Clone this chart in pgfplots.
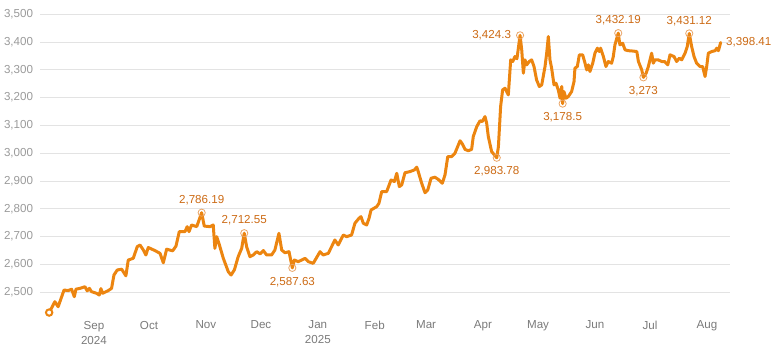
\documentclass[border=0pt]{standalone}
\usepackage{pgfplots}
\pgfplotsset{compat=1.18}
\usepackage{pgfplotstable}
\usepackage{fontspec}
\setmainfont{Liberation Sans}
\definecolor{goldline}{HTML}{EC8510}
\definecolor{annot}{HTML}{CC6A14}
\definecolor{ring}{HTML}{E9A466}
\definecolor{gridc}{HTML}{E3E3E3}
\definecolor{ytickc}{HTML}{9A9A9A}
\definecolor{xtickc}{HTML}{7A7A7A}

\pgfplotstableread{
d v
-24.4 2427
-21.3 2466
-19.5 2448
-16.3 2508
-14.0 2506
-12.2 2511
-10.7 2484
-9.8 2511
-7.6 2514
-4.9 2520
-3.7 2505
-2.5 2514
-1.3 2502
1.5 2496
2.9 2490
3.8 2513
4.7 2496
7.8 2506
9.6 2514
10.9 2562
12.7 2580
15.1 2583
17.4 2559
18.7 2616
21.4 2622
23.6 2664
25.1 2670
26.9 2652
28.3 2634
29.6 2661
33.2 2650
36.0 2640
37.8 2606
39.6 2655
42.9 2649
44.7 2666
46.5 2718
49.6 2718
50.8 2736
51.8 2718
53.2 2742
56.0 2736
58.7 2786.19
60.1 2738
63.2 2736
65.0 2742
65.9 2658
66.9 2700
68.1 2676
70.5 2622
73.2 2574
74.7 2562
76.5 2580
78.6 2628
80.5 2658
81.9 2712.55
83.2 2664
85.0 2628
86.8 2634
88.7 2646
90.5 2638
92.3 2650
94.1 2634
96.8 2634
98.6 2652
100.8 2712
102.3 2652
104.1 2642
106.3 2646
108.1 2587.63
109.2 2616
111.3 2610
113.2 2616
115.0 2622
116.8 2610
119.5 2604
123.2 2646
124.9 2634
127.7 2640
131.3 2688
133.1 2670
135.9 2706
137.7 2700
140.4 2706
142.2 2748
144.4 2766
145.5 2772
146.8 2748
148.6 2742
149.9 2766
151.0 2796
154.1 2808
155.3 2820
156.8 2862
159.5 2862
161.9 2904
163.7 2898
165.0 2928
166.4 2880
167.7 2886
169.5 2930
172.2 2934
174.6 2940
175.9 2950
176.7 2934
178.6 2892
180.4 2858
181.9 2868
183.7 2910
185.8 2914
188.0 2904
189.8 2892
191.3 2922
192.8 2988
194.9 2988
196.7 3000
198.2 3024
199.5 3045
200.7 3034
202.2 3014
204.0 3009
205.8 3014
206.7 3060
208.6 3096
210.4 3117
211.6 3114
213.1 3132
214.0 3108
214.9 3060
216.7 3006
219.5 2983.78
220.4 3024
221.6 3168
222.7 3228
224.0 3234
225.8 3210
227.1 3336
228.2 3330
229.4 3348
230.5 3340
232.2 3424.3
233.1 3372
234.0 3288
234.9 3336
235.8 3318
237.2 3330
238.5 3336
239.8 3312
241.2 3264
242.7 3240
244.0 3246
245.8 3312
246.7 3360
247.6 3420
248.5 3336
249.4 3306
250.7 3246
251.8 3252
253.0 3228
254.0 3198
254.9 3240
255.4 3178.5
256.1 3222
257.2 3198
258.5 3204
260.3 3222
261.6 3258
262.1 3306
263.4 3312
264.5 3354
266.3 3354
267.6 3324
268.5 3300
269.4 3318
270.3 3294
271.8 3324
273.0 3360
274.3 3378
275.4 3366
276.1 3378
277.6 3348
279.0 3312
280.3 3330
282.1 3324
283.0 3348
283.9 3390
285.7 3432.19
286.6 3390
288.1 3396
289.4 3372
291.2 3369
293.2 3368
295.8 3366
296.7 3330
298.5 3300
299.4 3273
300.9 3288
302.1 3312
303.9 3360
304.8 3324
305.7 3336
307.5 3336
309.4 3330
311.0 3330
312.7 3318
313.9 3354
316.1 3348
317.5 3330
319.0 3342
320.3 3336
322.1 3360
323.3 3384
324.4 3431.12
325.7 3384
327.0 3348
328.4 3324
330.3 3312
331.7 3312
333.0 3276
333.9 3312
334.8 3360
336.7 3366
338.5 3369
339.4 3378
340.3 3369
341.5 3398.41
}\goldtable

\pgfplotstableread{
d v lab
58.7 2786.19 2,786.19
81.9 2712.55 2,712.55
285.7 3432.19 3,432.19
324.4 3431.12 3,431.12
}\abovetable

\pgfplotstableread{
d v lab
108.1 2587.63 2,587.63
219.5 2983.78 2,983.78
255.4 3178.5 3,178.5
299.4 3273 3,273
}\belowtable

\pgfplotstableread{
d v lab
232.2 3424.3 3,424.3
}\lefttable

\pgfplotstableread{
d v lab
341.5 3398.41 3,398.41
}\righttable

\pgfplotstableread{
d v
-24.4 2427
}\starttable

\newcommand\lblfont{\fontsize{8.7}{11.25}\selectfont}

\begin{document}
\begin{tikzpicture}
\begin{axis}[
  name=ax,
  at={(0pt,0pt)}, anchor=south west,
  scale only axis, width=517.5pt, height=227.25pt,
  xmin=-29.4, xmax=346.6, ymin=2410, ymax=3500,
  clip=false,
  axis line style={draw=none},
  tick style={draw=none},
  major tick length=0pt,
  ytick={2500,2600,...,3500},
  ymajorgrids, grid style={gridc, line width=0.75pt},
  xtick={0,30,61,91,122,153,181,212,242,273,303,334},
  xticklabels={{Sep\\2024},Oct,Nov,Dec,{Jan\\2025},Feb,Mar,Apr,May,Jun,Jul,Aug},
  xticklabel style={align=center, anchor=north, inner sep=0pt, yshift=-2.6pt, text=xtickc, font=\lblfont},
  yticklabel style={anchor=east, inner sep=0pt, xshift=-5pt, text=ytickc, font=\lblfont,
     /pgf/number format/1000 sep={,}, /pgf/number format/assume math mode=true},
]
\addplot[goldline, line width=2.25pt, line join=round, line cap=round, mark=none] table[x=d,y=v] {\goldtable};
\addplot[only marks, mark=o, mark size=2.7pt, mark options={ring, line width=0.6pt},
  point meta=explicit symbolic, nodes near coords,
  every node near coord/.style={anchor=south, inner sep=0pt, yshift=5.5pt, text=annot, font=\lblfont}]
  table[x=d,y=v,meta=lab] {\abovetable};
\addplot[only marks, mark=o, mark size=2.7pt, mark options={ring, line width=0.6pt},
  point meta=explicit symbolic, nodes near coords,
  every node near coord/.style={anchor=north, inner sep=0pt, yshift=-6.5pt, text=annot, font=\lblfont}]
  table[x=d,y=v,meta=lab] {\belowtable};
\addplot[only marks, mark=o, mark size=2.7pt, mark options={ring, line width=0.6pt},
  point meta=explicit symbolic, nodes near coords,
  every node near coord/.style={anchor=east, inner sep=0pt, xshift=-6.5pt, text=annot, font=\lblfont}]
  table[x=d,y=v,meta=lab] {\lefttable};
\addplot[only marks, mark=none,
  point meta=explicit symbolic, nodes near coords,
  every node near coord/.style={anchor=west, inner sep=0pt, xshift=4pt, text=annot, font=\lblfont}]
  table[x=d,y=v,meta=lab] {\righttable};
\addplot[only marks, mark=*, mark size=2.4pt, mark options={draw=goldline, fill=white, line width=1.5pt}]
  table[x=d,y=v] {\starttable};
\end{axis}
\path[use as bounding box] ([xshift=-30pt,yshift=-25.3pt]ax.south west) rectangle ++(582pt,263.25pt);
\end{tikzpicture}
\end{document}
